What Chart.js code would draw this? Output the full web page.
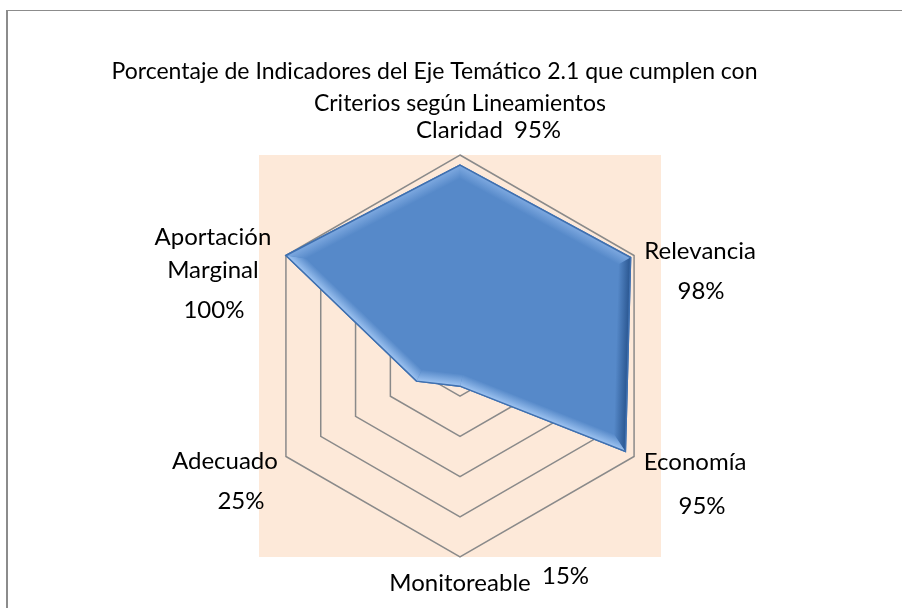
<!DOCTYPE html>
<html>
<head>
<meta charset="utf-8">
<script src="https://cdn.jsdelivr.net/npm/chart.js@4/dist/chart.umd.min.js"></script>
<style>
  html, body { margin: 0; padding: 0; background: #ffffff; }
  #wrap { position: relative; width: 902px; height: 608px; }
</style>
</head>
<body>
<div id="wrap"><canvas id="c" width="902" height="608"></canvas></div>
<script>
// ---- data ----
const titleLines = ['Porcentaje de Indicadores del Eje Temático 2.1 que cumplen con', 'Criterios según Lineamientos'];
const categories = ['Claridad', 'Relevancia', 'Economía', 'Monitoreable', 'Adecuado', 'Aportación Marginal'];
const categoryLines = [['Claridad'], ['Relevancia'], ['Economía'], ['Monitoreable'], ['Adecuado'], ['Aportación', 'Marginal']];
const values = [95, 98, 95, 15, 25, 100];
const axisMin = 0;
const axisMax = 100;
const axisStep = 20;

// ---- label placement relative to each outer vertex (style/layout only) ----
const labelLayout = [
  [{ part: 0, dx: -44, dy: -25, align: 'left' }, { part: 'v', dx: 54, dy: -25, align: 'left' }],
  [{ part: 0, dx: 66, dy: -4, align: 'center' }, { part: 'v', dx: 67, dy: 36, align: 'center' }],
  [{ part: 0, dx: 61, dy: 5.5, align: 'center' }, { part: 'v', dx: 68, dy: 50, align: 'center' }],
  [{ part: 0, dx: 0, dy: 26, align: 'center' }, { part: 'v', dx: 82, dy: 19, align: 'left' }],
  [{ part: 0, dx: -61, dy: 5, align: 'center' }, { part: 'v', dx: -45, dy: 45, align: 'center' }],
  [{ part: 0, dx: -73, dy: -18, align: 'center' }, { part: 1, dx: -73, dy: 15, align: 'center' }, { part: 'v', dx: -72, dy: 54.5, align: 'center' }]
];
const FONT = '"Lato", "Liberation Sans", sans-serif';
const FILL = '#5689C9';

function insetPoly(pts, d) {
  const n = pts.length;
  const nin = [];
  for (let i = 0; i < n; i++) {
    const a = pts[i], b = pts[(i + 1) % n];
    const ex = b.x - a.x, ey = b.y - a.y, L = Math.hypot(ex, ey) || 1;
    nin.push({ x: -ey / L, y: ex / L });
  }
  const w = [];
  for (let i = 0; i < n; i++) {
    const n1 = nin[(i - 1 + n) % n], n2 = nin[i];
    let k = 1 + n1.x * n2.x + n1.y * n2.y;
    k = Math.max(k, 0.35);
    w.push({ x: pts[i].x + d * (n1.x + n2.x) / k, y: pts[i].y + d * (n1.y + n2.y) / k });
  }
  return { w, nin };
}

const bevelPlugin = {
  id: 'bevel',
  afterDatasetsDraw(chart) {
    const ctx = chart.ctx;
    const pts = chart.getDatasetMeta(0).data.map(p => ({ x: p.x, y: p.y }));
    const d = 12;
    const { w, nin } = insetPoly(pts, d);
    const n = pts.length;
    ctx.save();
    for (let i = 0; i < n; i++) {
      const j = (i + 1) % n;
      const out = { x: -nin[i].x, y: -nin[i].y };
      let edge;
      if (out.x > 0.9) edge = '#2A5690';
      else if (out.y < -0.3) edge = '#7EA9E0';
      else edge = '#9EC4F2';
      const mx = (pts[i].x + pts[j].x) / 2, my = (pts[i].y + pts[j].y) / 2;
      const g = ctx.createLinearGradient(mx, my, mx + nin[i].x * d, my + nin[i].y * d);
      g.addColorStop(0, edge);
      g.addColorStop(1, FILL);
      ctx.fillStyle = g;
      ctx.beginPath();
      ctx.moveTo(pts[i].x, pts[i].y);
      ctx.lineTo(pts[j].x, pts[j].y);
      ctx.lineTo(w[j].x, w[j].y);
      ctx.lineTo(w[i].x, w[i].y);
      ctx.closePath();
      ctx.fill();
    }
    // outer rim
    ctx.strokeStyle = '#3F70B0';
    ctx.lineWidth = 1.5;
    ctx.lineJoin = 'miter';
    ctx.beginPath();
    pts.forEach((p, i) => i ? ctx.lineTo(p.x, p.y) : ctx.moveTo(p.x, p.y));
    ctx.closePath();
    ctx.stroke();
    ctx.restore();
  }
};

const decorPlugin = {
  id: 'decor',
  beforeDraw(chart) {
    const ctx = chart.ctx;
    const s = chart.scales.r;
    ctx.save();
    ctx.fillStyle = '#8c8c8c';
    ctx.fillRect(6, 10, 2, chart.height - 10);
    ctx.fillRect(6, 10, chart.width - 6, 1);
    ctx.fillStyle = '#FDE9D9';
    ctx.fillRect(s.xCenter - s.drawingArea, s.yCenter - s.drawingArea, 2 * s.drawingArea, 2 * s.drawingArea);
    ctx.restore();
  },
  afterDraw(chart) {
    const ctx = chart.ctx;
    const s = chart.scales.r;
    ctx.save();
    ctx.fillStyle = '#000000';
    ctx.textBaseline = 'middle';
    ctx.font = '23px ' + FONT;
    ctx.textAlign = 'center';
    ctx.fillText(titleLines[0], s.xCenter - 25.5, 72);
    ctx.fillText(titleLines[1], s.xCenter, 104);
    ctx.font = '24px ' + FONT;
    categories.forEach((c, i) => {
      const p = s.getPointPosition(i, s.drawingArea);
      labelLayout[i].forEach(piece => {
        const txt = piece.part === 'v' ? values[i] + '%' : categoryLines[i][piece.part];
        ctx.textAlign = piece.align;
        ctx.fillText(txt, p.x + piece.dx, p.y + piece.dy);
      });
    });
    ctx.restore();
  }
};

new Chart(document.getElementById('c'), {
  type: 'radar',
  data: {
    labels: categories,
    datasets: [{
      data: values,
      backgroundColor: FILL,
      borderColor: '#3F70B0',
      borderWidth: 1.5,
      pointRadius: 0,
      fill: true,
      tension: 0
    }]
  },
  options: {
    responsive: false,
    animation: false,
    devicePixelRatio: 1,
    layout: { padding: { left: 259, right: 241, top: 155, bottom: 51 } },
    plugins: { legend: { display: false }, tooltip: { enabled: false }, title: { display: false } },
    scales: {
      r: {
        min: axisMin,
        max: axisMax,
        ticks: { display: false, stepSize: axisStep },
        grid: { color: '#8a8a8a', lineWidth: 1.5 },
        angleLines: { display: false },
        pointLabels: { display: false }
      }
    }
  },
  plugins: [decorPlugin, bevelPlugin]
});
</script>
</body>
</html>
